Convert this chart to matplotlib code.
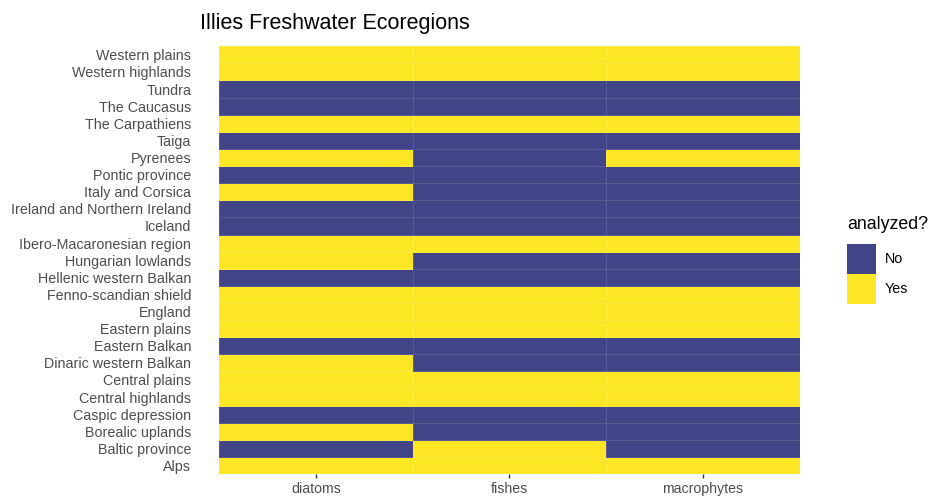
import matplotlib.pyplot as plt
import numpy as np
from matplotlib.colors import ListedColormap
from matplotlib.patches import Patch

plt.rcParams['font.family'] = ['Liberation Sans', 'DejaVu Sans']

groups = ['diatoms', 'fishes', 'macrophytes']

# ecoregions listed bottom to top
regions = ['Alps', 'Baltic province', 'Borealic uplands', 'Caspic depression',
           'Central highlands', 'Central plains', 'Dinaric western Balkan',
           'Eastern Balkan', 'Eastern plains', 'England', 'Fenno-scandian shield',
           'Hellenic western Balkan', 'Hungarian lowlands', 'Ibero-Macaronesian region',
           'Iceland', 'Ireland and Northern Ireland', 'Italy and Corsica',
           'Pontic province', 'Pyrenees', 'Taiga', 'The Carpathiens',
           'The Caucasus', 'Tundra', 'Western highlands', 'Western plains']

# 1 = analyzed, 0 = not analyzed (diatoms, fishes, macrophytes)
diatoms     = [1, 0, 1, 0, 1, 1, 1, 0, 1, 1, 1, 0, 1, 1, 0, 0, 1, 0, 1, 0, 1, 0, 0, 1, 1]
fishes      = [1, 1, 0, 0, 1, 1, 0, 0, 1, 1, 1, 0, 0, 1, 0, 0, 0, 0, 0, 0, 1, 0, 0, 1, 1]
macrophytes = [1, 0, 0, 0, 1, 1, 0, 0, 1, 1, 1, 0, 0, 1, 0, 0, 0, 0, 1, 0, 1, 0, 0, 1, 1]

legend_labels = ['No', 'Yes']
colors = ['#414487', '#FDE725']

grid = np.column_stack([diatoms, fishes, macrophytes])

fig = plt.figure(figsize=(9.32, 4.97), dpi=100)
ax = fig.add_axes([0.235, 0.046, 0.623, 0.861])

ax.pcolormesh(np.arange(len(groups) + 1), np.arange(len(regions) + 1), grid,
              cmap=ListedColormap(colors), vmin=0, vmax=1,
              edgecolor=(1, 1, 1, 0.12), linewidth=0.6)

ax.set_xticks(np.arange(len(groups)) + 0.5)
ax.set_xticklabels(groups)
ax.set_yticks(np.arange(len(regions)) + 0.5)
ax.set_yticklabels(regions)
ax.set_xlim(0, len(groups))
ax.set_ylim(0, len(regions))
ax.tick_params(axis='x', length=3, width=1, color='#333333', labelsize=10.2,
               labelcolor='#4d4d4d', pad=3)
ax.tick_params(axis='y', length=0, labelsize=10.3, labelcolor='#4d4d4d', pad=20)
for s in ax.spines.values():
    s.set_visible(False)

fig.text(0.215, 0.953, 'Illies Freshwater Ecoregions', fontsize=15.5,
         color='black', va='center', ha='left')

handles = [Patch(facecolor=c, edgecolor='none') for c in colors]
leg = fig.legend(handles, legend_labels, title='analyzed?',
                 loc='center left', bbox_to_anchor=(0.909, 0.477),
                 frameon=False, fontsize=10.3, title_fontsize=12.8,
                 handlelength=2.0, handleheight=2.8, labelspacing=0,
                 handletextpad=0.65, borderpad=0, borderaxespad=0)
leg._legend_box.align = 'left'
leg._legend_box.sep = 8

fig.savefig('out.png', dpi=100)
